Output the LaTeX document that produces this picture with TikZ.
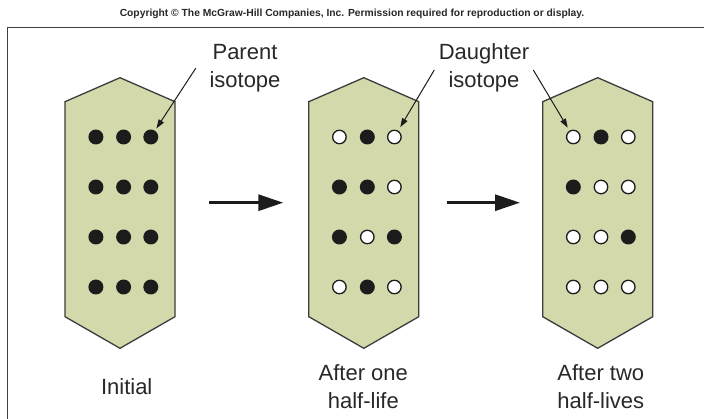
\documentclass[tikz,border=0pt]{standalone}
\usepackage{fontspec}
\setmainfont{Liberation Sans}
\usetikzlibrary{arrows.meta}
\definecolor{hexfill}{RGB}{212,217,172}
\definecolor{hexline}{RGB}{60,60,60}
\definecolor{inkc}{RGB}{28,28,28}
\definecolor{textc}{RGB}{40,40,40}
\begin{document}
\begin{tikzpicture}[x=1pt,y=-1pt,
  hexbox/.style={draw=hexline, line width=1.3pt, fill=hexfill, line join=miter},
  fulldot/.style={circle, fill=inkc, minimum size=15pt, inner sep=0pt},
  opendot/.style={circle, draw=inkc, fill=white, line width=1.3pt, minimum size=13.5pt, inner sep=0pt},
  lbl/.style={font=\fontsize{22}{28}\selectfont, align=center, text=textc, inner sep=0pt},
  bigarrow/.style={draw=inkc, line width=3pt, -{Triangle[length=25pt,width=16pt]}},
  callout/.style={draw=inkc, line width=1pt, -{Triangle[length=9pt,width=6pt]}},
  framel/.style={draw=black!75, line width=1.6pt},
]
\useasboundingbox (0,0) rectangle (704,419);
\fill[white] (0,0) rectangle (704,419);

% copyright line and frame
\node[font=\bfseries\fontsize{10.3}{12}\selectfont, anchor=base, text=textc, inner sep=0pt] (copy) at (352,17)
  {Copyright © The McGraw-Hill Companies, Inc. Permission required for reproduction or display.};
\coordinate (fbl) at (7.3,420);
\coordinate (ftl) at (7.3,27.7);
\coordinate (ftr) at (705,27.7);
\draw[framel] (fbl) -- (ftl) -- (ftr);

% hexagon plates
\foreach \cx in {120,363.8,597.7}{
  \draw[hexbox] (\cx-55,101.7) -- (\cx,77.7) -- (\cx+55,101.7) -- (\cx+55,316.7)
     -- (\cx,348.3) -- (\cx-55,316.7) -- cycle;
}

% panel 1: all parent
\foreach \y [count=\r] in {137,187,237,287}{
  \node[fulldot] (a\r a) at (95.9,\y) {};
  \node[fulldot] (a\r b) at (123.6,\y) {};
  \node[fulldot] (a\r c) at (150.8,\y) {};
}
% panel 2
\foreach \y/\pa/\pb/\pc [count=\r] in {137/opendot/fulldot/opendot, 187/fulldot/fulldot/opendot,
    237/fulldot/opendot/fulldot, 287/opendot/fulldot/opendot}{
  \node[\pa] (b\r a) at (339.4,\y) {};
  \node[\pb] (b\r b) at (367.3,\y) {};
  \node[\pc] (b\r c) at (394.4,\y) {};
}
% panel 3
\foreach \y/\pa/\pb/\pc [count=\r] in {137/opendot/fulldot/opendot, 187/fulldot/opendot/opendot,
    237/opendot/opendot/fulldot, 287/opendot/opendot/opendot}{
  \node[\pa] (c\r a) at (573.3,\y) {};
  \node[\pb] (c\r b) at (601.0,\y) {};
  \node[\pc] (c\r c) at (628.3,\y) {};
}

% process arrows
\coordinate (h1s) at (209,202.7);
\coordinate (h1e) at (283.3,202.7);
\coordinate (h2s) at (446.7,202.7);
\coordinate (h2e) at (520,202.7);
\draw[bigarrow] (h1s) -- (h1e);
\draw[bigarrow] (h2s) -- (h2e);

% labels (base anchor = baseline of the last line)
\node[lbl, anchor=base] (parent) at (245,88) {Parent\\isotope};
\node[lbl, anchor=base] (daughter) at (484,88) {Daughter\\isotope};
\node[lbl, anchor=base] (initial) at (126.7,395) {Initial};
\node[lbl, anchor=base] (after1) at (363.3,408) {After one\\half-life};
\node[lbl, anchor=base] (after2) at (600.8,408) {After two\\half-lives};

% callouts
\coordinate (cp) at (195.7,68.3);
\coordinate (cdl) at (434.3,70);
\coordinate (cdr) at (533.3,70);
\draw[callout, shorten >=2.5pt] (cp) -- (a1c);
\draw[callout, shorten >=4pt] (cdl) -- (b1c);
\draw[callout, shorten >=3.5pt] (cdr) -- (c1a);
\end{tikzpicture}
\end{document}
